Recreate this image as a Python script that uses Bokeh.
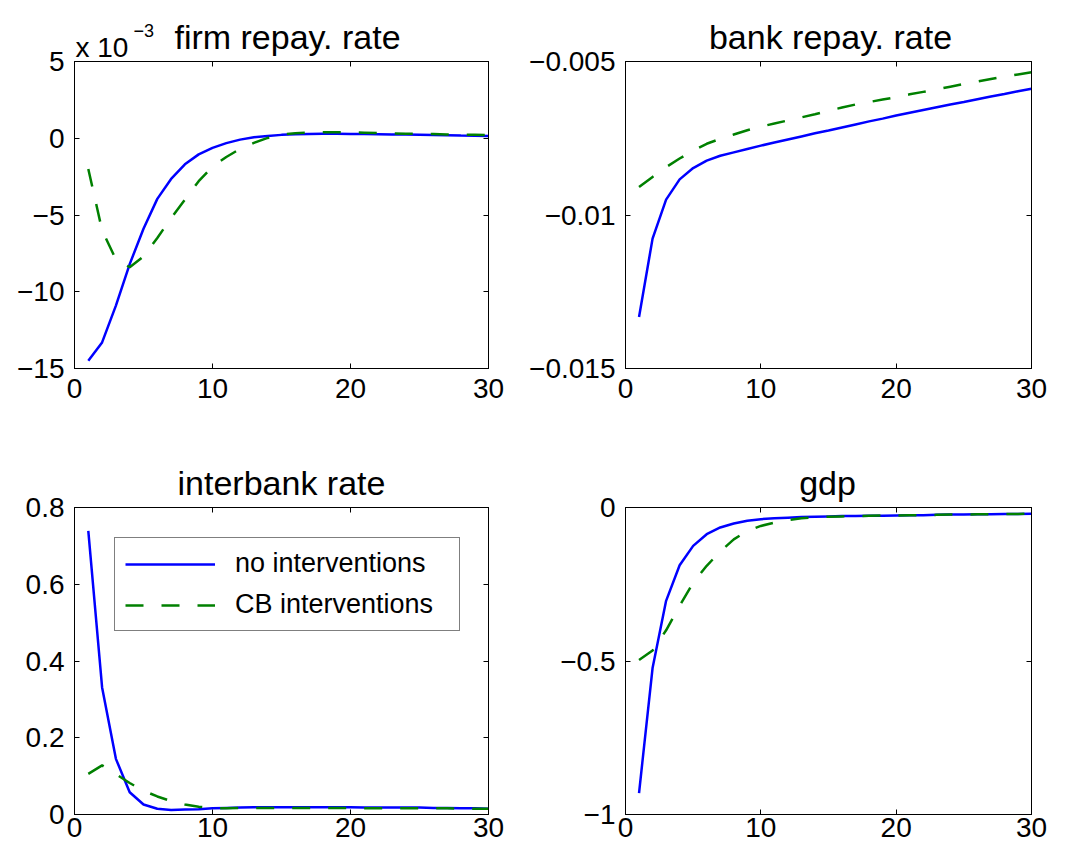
from bokeh.plotting import figure
from bokeh.models import (Range1d, FixedTicker, LinearAxis, Legend, LegendItem,
                          CustomLabelingPolicy, ColumnDataSource)
from bokeh.core.properties import value
from bokeh.layouts import column, row
from bokeh.embed import file_html
from bokeh.resources import INLINE

# ---------------- data ----------------
periods = list(range(1, 31))

x_ticks = [0, 10, 20, 30]
x_tick_labels = ["0", "10", "20", "30"]

series_names = ["no interventions", "CB interventions"]
titles = ["firm repay. rate", "bank repay. rate", "interbank rate", "gdp"]

# firm repayment rate (values in units of 10^-3)
firm_no = [-14.5, -13.3, -10.9, -8.2, -5.9, -3.95, -2.65, -1.7, -1.05, -0.63,
           -0.32, -0.09, 0.07, 0.15, 0.22, 0.26, 0.28, 0.29, 0.29, 0.28,
           0.27, 0.26, 0.25, 0.24, 0.23, 0.21, 0.2, 0.18, 0.17, 0.15]
firm_cb = [-2.0, -6.0, -7.9, -8.4, -7.7, -6.5, -5.2, -4.0, -2.8, -1.85,
           -1.22, -0.69, -0.3, 0.02, 0.24, 0.33, 0.37, 0.39, 0.39, 0.38,
           0.36, 0.34, 0.32, 0.3, 0.28, 0.27, 0.25, 0.24, 0.22, 0.2]
firm_yrange = [-15, 5]
firm_ticks = [-15, -10, -5, 0, 5]
firm_tick_labels = ["\u221215", "\u221210", "\u22125", "0", "5"]
firm_scale_text = "x 10"
firm_scale_exp = "\u22123"

# bank repayment rate
bank_no = [-0.01332, -0.01077, -0.0095, -0.00884, -0.00847, -0.00823, -0.00807, -0.00796, -0.00785, -0.00774,
           -0.00764, -0.00754, -0.00744, -0.00734, -0.00725, -0.00715, -0.00705, -0.00695, -0.00686, -0.00676,
           -0.00667, -0.00658, -0.00649, -0.0064, -0.00632, -0.00623, -0.00614, -0.00606, -0.00597, -0.00589]
bank_cb = [-0.00909, -0.00876, -0.00844, -0.00816, -0.0079, -0.00768, -0.00752, -0.00738, -0.00724, -0.00712,
           -0.00702, -0.00692, -0.00682, -0.00672, -0.0066, -0.0065, -0.0064, -0.00632, -0.00624, -0.00616,
           -0.00607, -0.00599, -0.00591, -0.00582, -0.00573, -0.00565, -0.00557, -0.00549, -0.00542, -0.00535]
bank_yrange = [-0.015, -0.005]
bank_ticks = [-0.015, -0.01, -0.005]
bank_tick_labels = ["\u22120.015", "\u22120.01", "\u22120.005"]

# interbank rate
inter_no = [0.739, 0.331, 0.145, 0.058, 0.026, 0.015, 0.012, 0.013, 0.014, 0.016,
            0.017, 0.018, 0.019, 0.019, 0.019, 0.019, 0.019, 0.019, 0.019, 0.019,
            0.018, 0.018, 0.018, 0.018, 0.018, 0.017, 0.017, 0.016, 0.016, 0.015]
inter_cb = [0.106, 0.128, 0.105, 0.082, 0.062, 0.047, 0.035, 0.026, 0.02, 0.017,
            0.016, 0.017, 0.017, 0.017, 0.017, 0.017, 0.017, 0.017, 0.017, 0.017,
            0.016, 0.016, 0.016, 0.016, 0.016, 0.016, 0.016, 0.015, 0.015, 0.015]
inter_yrange = [0, 0.8]
inter_ticks = [0, 0.2, 0.4, 0.6, 0.8]
inter_tick_labels = ["0", "0.2", "0.4", "0.6", "0.8"]

# gdp
gdp_no = [-0.93, -0.523, -0.304, -0.188, -0.125, -0.087, -0.065, -0.052, -0.043, -0.038,
          -0.035, -0.033, -0.031, -0.03, -0.029, -0.028, -0.028, -0.027, -0.027, -0.026,
          -0.025, -0.025, -0.024, -0.023, -0.023, -0.022, -0.022, -0.021, -0.021, -0.02]
gdp_cb = [-0.497, -0.466, -0.4, -0.32, -0.245, -0.19, -0.143, -0.104, -0.076, -0.06,
          -0.049, -0.041, -0.035, -0.032, -0.03, -0.029, -0.028, -0.027, -0.026, -0.026,
          -0.025, -0.025, -0.024, -0.023, -0.023, -0.022, -0.022, -0.021, -0.021, -0.02]
gdp_yrange = [-1, 0]
gdp_ticks = [-1, -0.5, 0]
gdp_tick_labels = ["\u22121", "\u22120.5", "0"]

# ---------------- styling ----------------
FONT = "Liberation Sans"
BLUE = "#0000ff"
GREEN = "#008000"
TICK_SIZE = "28px"
TITLE_SIZE = "34px"
PAGE = 8  # body margin emulated by borders
XMAX = 30

NO_LABELS = CustomLabelingPolicy(code="for (const i of indices) { indices.unset(i) }\nreturn indices")


def style_axis(ax, ticks, labels, show_labels, standoff):
    ax.ticker = FixedTicker(ticks=ticks)
    ax.major_tick_in = 5
    ax.major_tick_out = 0
    ax.minor_tick_in = 0
    ax.minor_tick_out = 0
    ax.axis_line_color = "black"
    ax.axis_line_width = 1
    ax.major_tick_line_color = "black"
    ax.major_tick_line_width = 1
    ax.major_label_text_font = FONT
    ax.major_label_text_color = "black"
    if show_labels:
        ax.major_label_overrides = {t: l for t, l in zip(ticks, labels)}
        ax.major_label_text_font_size = TICK_SIZE
        ax.major_label_standoff = standoff
    else:
        ax.major_label_policy = NO_LABELS
        ax.major_label_text_font_size = "1px"
        ax.major_label_standoff = 0


def add_text(p, fw, fh, yrange, dx_px, dy_px, text, size, align):
    """Text placed dx_px right of the frame's left edge and dy_px above its top edge."""
    x = dx_px * XMAX / fw
    y = yrange[1] + dy_px * (yrange[1] - yrange[0]) / fh
    src = ColumnDataSource(data=dict(x=[x], y=[y], t=[text]))
    p.text(x="x", y="y", text="t", source=src, level="overlay",
           text_font=value(FONT), text_font_size=value(size),
           text_align=align, text_baseline="alphabetic", text_color="black")


def make_panel(fw, fh, left, right, top, bottom, yrange, yticks, ylabels,
               y_no, y_cb, title, title_dx, x_standoff):
    p = figure(frame_width=fw, frame_height=fh,
               x_range=Range1d(0, XMAX), y_range=Range1d(yrange[0], yrange[1]),
               output_backend="svg", toolbar_location=None,
               min_border_left=left, min_border_right=right,
               min_border_top=top, min_border_bottom=bottom,
               background_fill_color="white", border_fill_color="white",
               outline_line_color="black", outline_line_width=1)
    p.xgrid.visible = False
    p.ygrid.visible = False
    style_axis(p.xaxis[0], x_ticks, x_tick_labels, True, x_standoff)
    style_axis(p.yaxis[0], yticks, ylabels, True, 10)
    top_ax = LinearAxis()
    style_axis(top_ax, x_ticks, x_tick_labels, False, 0)
    p.add_layout(top_ax, "above")
    right_ax = LinearAxis()
    style_axis(right_ax, yticks, ylabels, False, 0)
    p.add_layout(right_ax, "right")

    r_no = p.line(periods, y_no, line_color=BLUE, line_width=2.5)
    r_cb = p.line(periods, y_cb, line_color=GREEN, line_width=2.5, line_dash="18 18")

    add_text(p, fw, fh, yrange, title_dx, 25, title, TITLE_SIZE, "center")
    return p, r_no, r_cb


# top-left: firm repay rate
p1, _, _ = make_panel(414, 307, 66 + PAGE, 20, 53 + PAGE, 50, firm_yrange, firm_ticks, firm_tick_labels,
                      firm_no, firm_cb, titles[0], 213, 10)
add_text(p1, 414, 307, firm_yrange, 1, 14, firm_scale_text, "28px", "left")
add_text(p1, 414, 307, firm_yrange, 59, 31, firm_scale_exp, "18px", "left")

# top-right: bank repay rate
p2, _, _ = make_panel(406, 307, 117, 25, 53 + PAGE, 50, bank_yrange, bank_ticks, bank_tick_labels,
                      bank_no, bank_cb, titles[1], 205, 10)

# bottom-left: interbank rate
p3, r3_no, r3_cb = make_panel(414, 307, 66 + PAGE, 20, 89, 35, inter_yrange, inter_ticks, inter_tick_labels,
                              inter_no, inter_cb, titles[2], 207, 3)
legend = Legend(items=[LegendItem(label=series_names[0], renderers=[r3_no]),
                       LegendItem(label=series_names[1], renderers=[r3_cb])],
                location=(40, 183), margin=0, padding=10, spacing=10,
                glyph_width=90, glyph_height=30, label_height=30,
                label_standoff=20, label_width=214,
                label_text_font=FONT, label_text_font_size="27px",
                label_text_color="black",
                border_line_color="black", border_line_width=1,
                background_fill_color="white", background_fill_alpha=1.0)
p3.add_layout(legend)

# bottom-right: gdp
p4, _, _ = make_panel(406, 307, 117, 25, 89, 35, gdp_yrange, gdp_ticks, gdp_tick_labels,
                      gdp_no, gdp_cb, titles[3], 202, 3)

layout = column(row(p1, p2, spacing=0), row(p3, p4, spacing=0), spacing=0)

open("out.html", "w").write(file_html(layout, INLINE))
